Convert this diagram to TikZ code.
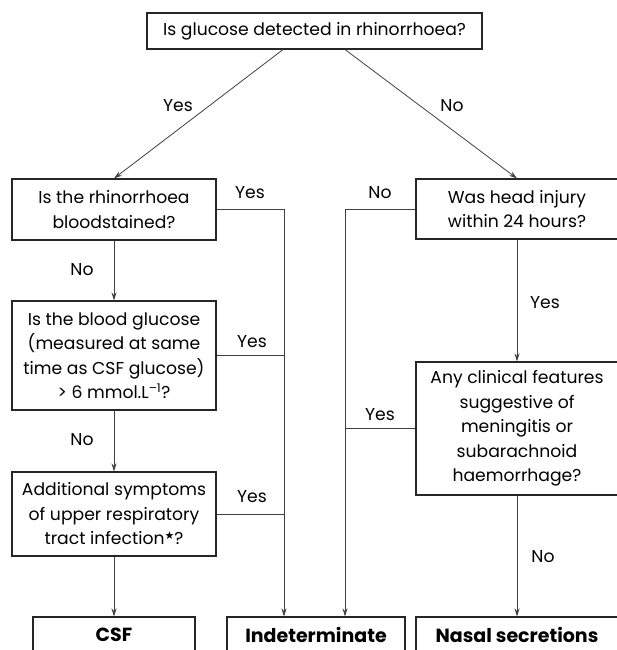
\documentclass[tikz,border=0pt]{standalone}
\usepackage{fontspec}
\setmainfont{Poppins}
\newfontfamily\symfont{DejaVu Sans}
\usetikzlibrary{arrows.meta}
\begin{document}
\begin{tikzpicture}[x=1pt,y=-1pt,
  box/.style={draw=black!85, line width=1.1pt, align=center, inner sep=0pt,
              font=\fontsize{17.2}{24.5}\selectfont},
  endbox/.style={box, font=\fontsize{19}{21}\selectfont\bfseries},
  lab/.style={inner sep=0pt, font=\fontsize{17.2}{20}\selectfont},
  conn/.style={draw=black!75, line width=0.8pt},
  arr/.style={conn, -{Stealth[length=8pt,width=5pt]}}]
\useasboundingbox (0,0) rectangle (617,650);
\clip (0,0) rectangle (617,650);

% question boxes
\node[box, minimum width=335pt, minimum height=36pt] (q0) at (314.5,31)
  {Is glucose detected in rhinorrhoea?};
\node[box, minimum width=204pt, minimum height=61pt] (l1) at (114,209.5)
  {Is the rhinorrhoea\\bloodstained?};
\node[box, minimum width=204pt, minimum height=109pt] (l2) at (114,355.5)
  {Is the blood glucose\\(measured at same\\time as CSF glucose)\\> 6 mmol.L\textsuperscript{–1}?};
\node[box, minimum width=204pt, minimum height=84pt] (l3) at (114,514)
  {Additional symptoms\\of upper respiratory\\tract infection{\symfont\fontsize{11}{11}\selectfont\raisebox{5pt}{★}}?};
\node[box, minimum width=202pt, minimum height=60pt] (r1) at (517,209)
  {Was head injury\\within 24 hours?};
\node[box, minimum width=202pt, minimum height=133pt] (r2) at (517,428.5)
  {Any clinical features\\suggestive of\\meningitis or\\subarachnoid\\haemorrhage?};

% outcome boxes (cut off by the bottom edge)
\node[endbox, minimum width=162pt, minimum height=36pt] (csf) at (114,635) {CSF};
\node[endbox, minimum width=178pt, minimum height=36pt] (ind) at (316,635) {Indeterminate};
\node[endbox, minimum width=202pt, minimum height=36pt] (nas) at (517,635) {Nasal secretions};

% helper columns for the joining lines
\coordinate (xa) at (284,0);
\coordinate (xb) at (345,0);

% connectors
\draw[arr] (q0.south -| 283,0) -- (l1.north);
\draw[arr] (q0.south -| 345,0) -- (r1.north);
\draw[arr] (l1.south) -- (l2.north);
\draw[arr] (l2.south) -- (l3.north);
\draw[arr] (l3.south) -- (csf.north);
\draw[arr] (r1.south) -- (r2.north);
\draw[arr] (r2.south) -- (nas.north);
\draw[arr] (l1.east) -- (l1.east -| xa) -- (ind.north -| xa);
\draw[conn] (l2.east) -- (l2.east -| xa);
\draw[conn] (l3.east) -- (l3.east -| xa);
\draw[arr] (r1.west) -- (r1.west -| xb) -- (ind.north -| xb);
\draw[conn] (r2.west) -- (r2.west -| xb);

% labels
\node[lab] (y0) at (178,106) {Yes};
\node[lab] (n0) at (452,106) {No};
\node[lab] (y1) at (250,193) {Yes};
\node[lab] (n1) at (380,193) {No};
\node[lab] (n2) at (82,270) {No};
\node[lab] (y2) at (252,342) {Yes};
\node[lab] (n3) at (82,440) {No};
\node[lab] (y3) at (252,497) {Yes};
\node[lab] (y4) at (545,303) {Yes};
\node[lab] (y5) at (380,415) {Yes};
\node[lab] (n4) at (543,557) {No};
\end{tikzpicture}
\end{document}
